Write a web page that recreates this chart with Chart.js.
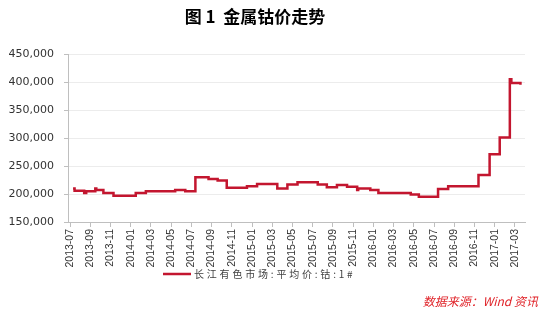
<!DOCTYPE html>
<html>
<head>
<meta charset="utf-8">
<script src="https://cdn.jsdelivr.net/npm/chart.js@4"></script>
<style>
  html, body { margin: 0; padding: 0; background: #fff; }
  #wrap { width: 543px; height: 316px; position: relative; }
</style>
</head>
<body>
<div id="wrap"><canvas id="cobaltChart"></canvas></div>
<script>
// months since 2013-07 where each price step starts
const stepMonths = [0.3, 0.45, 1.4, 1.6, 2.5, 2.6, 3.3, 4.3, 6.5, 7.5, 10.4, 11.4, 12.4, 13.7, 14.6, 15.5,
  17.5, 18.5, 20.5, 21.5, 22.5, 24.5, 25.4, 26.4, 27.4, 28.4, 28.5, 29.7, 30.5, 33.7, 34.5, 36.4,
  37.4, 40.4, 41.5, 42.5, 43.5, 43.65, 44.45, 44.55];
const cobaltPrice = [210000, 206000, 202000, 205000, 210000, 207000, 202000, 197000, 202000, 205000,
  207000, 205000, 230000, 227000, 224000, 211000, 214000, 218000, 210000, 217000, 221000, 217000,
  212000, 216000, 213000, 207000, 210000, 207000, 202000, 199000, 195000, 209000, 214000, 234000,
  271000, 301000, 405000, 398000, 398000, 395000];
const tickLabels = ["2013-07", "2013-09", "2013-11", "2014-01", "2014-03", "2014-05", "2014-07",
  "2014-09", "2014-11", "2015-01", "2015-03", "2015-05", "2015-07", "2015-09", "2015-11", "2016-01",
  "2016-03", "2016-05", "2016-07", "2016-09", "2016-11", "2017-01", "2017-03"];
const seriesName = "长江有色市场:平均价:钴:1#";
const titleText = "图 1  金属钴价走势";
const sourceText = "数据来源：Wind 资讯";

const lineRed = "#c3162f";

const extras = {
  id: "extras",
  afterDraw(chart) {
    const ctx = chart.ctx;
    ctx.save();
    // title
    ctx.fillStyle = "#000";
    ctx.font = "bold 17px 'Noto Sans CJK SC'";
    ctx.textAlign = "center";
    ctx.textBaseline = "middle";
    ctx.fillText(titleText, 255, 17);
    // legend
    ctx.strokeStyle = lineRed;
    ctx.lineWidth = 2.5;
    ctx.beginPath();
    ctx.moveTo(163, 274);
    ctx.lineTo(191, 274);
    ctx.stroke();
    ctx.fillStyle = "#404040";
    ctx.font = "10px 'Noto Sans CJK SC'";
    ctx.textAlign = "left";
    ctx.letterSpacing = "2.8px";
    ctx.fillText(seriesName, 194, 274);
    // source
    ctx.letterSpacing = "0px";
    ctx.fillStyle = "#e0242a";
    ctx.font = "italic 12px 'Noto Sans CJK SC'";
    ctx.textAlign = "right";
    ctx.fillText(sourceText, 538, 301);
    ctx.restore();
  }
};

const ctx = document.getElementById("cobaltChart").getContext("2d");
new Chart(ctx, {
  type: "line",
  data: {
    datasets: [{
      label: seriesName,
      data: stepMonths.map((m, i) => ({ x: m, y: cobaltPrice[i] })),
      borderColor: lineRed,
      borderWidth: 2.5,
      pointRadius: 0,
      stepped: "before",
      fill: false
    }]
  },
  options: {
    responsive: true,
    maintainAspectRatio: false,
    animation: false,
    layout: { padding: { left: 0, right: 18, top: 54, bottom: 0 } },
    plugins: {
      legend: { display: false },
      tooltip: { enabled: false }
    },
    scales: {
      x: {
        type: "linear",
        min: -0.2,
        max: 45,
        afterFit: (scale) => { scale.height = 94; },
        border: { color: "#bfbfbf" },
        grid: { drawOnChartArea: false, tickLength: 5, color: "#bfbfbf" },
        ticks: {
          stepSize: 2,
          includeBounds: false,
          autoSkip: false,
          minRotation: 90,
          maxRotation: 90,
          padding: 2,
          color: "#333",
          font: { family: "Liberation Sans", size: 10.5 },
          callback: (v) => (Number.isInteger(v / 2) && v >= 0 ? tickLabels[v / 2] : null)
        }
      },
      y: {
        min: 150000,
        max: 450000,
        afterFit: (scale) => { scale.width = 68; },
        border: { color: "#bfbfbf" },
        grid: { color: "#ececec", tickColor: "#bfbfbf", tickLength: 4 },
        ticks: {
          stepSize: 50000,
          padding: 10,
          color: "#333",
          font: { family: "DejaVu Sans", size: 11 },
          callback: (v) => v.toLocaleString("en-US")
        }
      }
    }
  },
  plugins: [extras]
});
</script>
</body>
</html>
